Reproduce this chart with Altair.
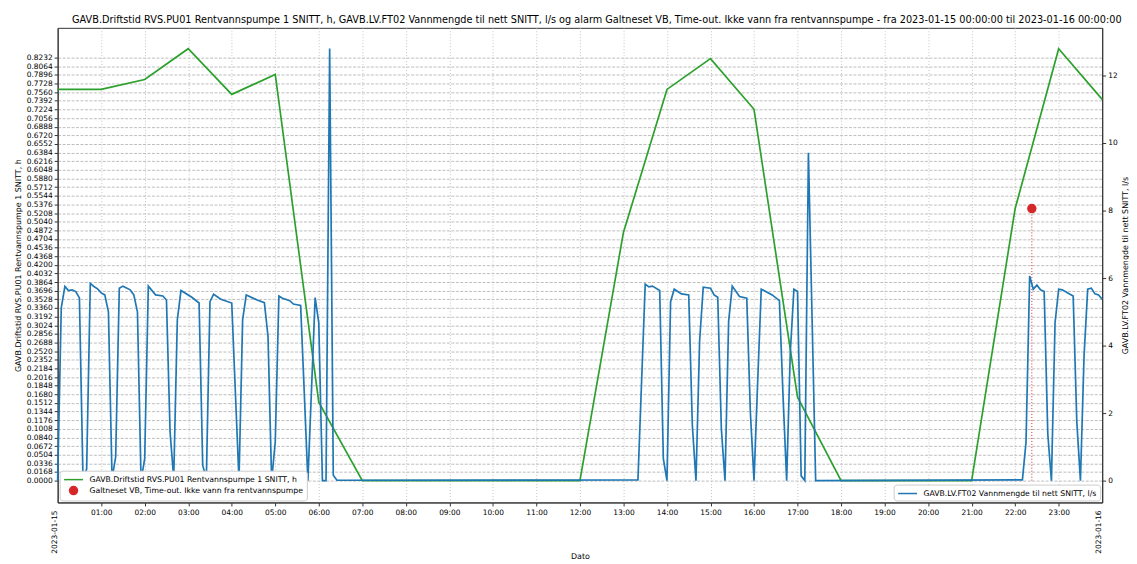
import altair as alt
import pandas as pd

FONT = "DejaVu Sans"
TITLE = ("GAVB.Driftstid RVS.PU01 Rentvannspumpe 1 SNITT, h, GAVB.LV.FT02 Vannmengde til nett SNITT, l/s "
         "og alarm Galtneset VB, Time-out. Ikke vann fra rentvannspumpe - fra 2023-01-15 00:00:00 til 2023-01-16 00:00:00")
GREEN_NAME = "GAVB.Driftstid RVS.PU01 Rentvannspumpe 1 SNITT, h"
ALARM_NAME = "Galtneset VB, Time-out. Ikke vann fra rentvannspumpe"
BLUE_NAME = "GAVB.LV.FT02 Vannmengde til nett SNITT, l/s"

# Driftstid (h), hourly, left axis
green_times = ["00:00", "01:00", "02:00", "03:00", "04:00", "05:00", "06:00", "07:00", "08:00",
               "09:00", "10:00", "11:00", "12:00", "13:00", "14:00", "15:00", "16:00", "17:00",
               "18:00", "19:00", "20:00", "21:00", "22:00", "23:00", "24:00"]
green_values = [0.7614, 0.7614, 0.7807, 0.8406, 0.7517, 0.7904, 0.1527, 0.0, 0.0,
                0.0, 0.0, 0.0, 0.0, 0.4831, 0.7614, 0.8213, 0.7227, 0.1623,
                0.0, 0.0, 0.0, 0.0, 0.5295, 0.8406, 0.7420]

# Vannmengde (l/s), right axis
blue_times = ["00:00", "00:05", "00:10", "00:15", "00:20", "00:25", "00:30", "00:35", "00:40",
              "00:45", "00:50", "00:55", "01:00", "01:05", "01:10", "01:15", "01:20", "01:25",
              "01:30", "01:40", "01:45", "01:50", "01:55", "02:00", "02:05", "02:15", "02:25",
              "02:30", "02:35", "02:40", "02:45", "02:50", "03:05", "03:15", "03:20", "03:25",
              "03:30", "03:35", "03:45", "04:00", "04:10", "04:15", "04:20", "04:35", "04:45",
              "04:50", "04:55", "05:00", "05:05", "05:10", "05:20", "05:25", "05:35", "05:45",
              "05:55", "06:00", "06:05", "06:10", "06:15", "06:20", "06:25", "13:20", "13:30",
              "13:35", "13:40", "13:50", "13:55", "14:00", "14:05", "14:10", "14:20", "14:30",
              "14:35", "14:40", "14:45", "14:50", "15:00", "15:05", "15:10", "15:15", "15:20",
              "15:25", "15:30", "15:40", "15:50", "15:55", "16:00", "16:05", "16:10", "16:25",
              "16:35", "16:40", "16:45", "16:50", "16:55", "17:00", "17:05", "17:10", "17:15",
              "17:25", "22:10", "22:15", "22:20", "22:25", "22:30", "22:35", "22:40", "22:45",
              "22:50", "22:55", "23:00", "23:05", "23:15", "23:20", "23:25", "23:30", "23:35",
              "23:40", "23:45", "23:50", "23:55", "24:00"]
blue_values = [0.0, 5.12, 5.75, 5.63, 5.65, 5.60, 5.41, 0.0, 0.35,
               5.84, 5.75, 5.68, 5.56, 5.50, 5.00, 0.06, 0.70, 5.70,
               5.76, 5.65, 5.50, 5.00, 0.0, 0.65, 5.76, 5.50, 5.47,
               5.35, 1.44, 0.06, 4.76, 5.63, 5.43, 5.26, 0.45, 0.06,
               5.30, 5.52, 5.37, 5.26, 0.0, 4.76, 5.50, 5.35, 5.27,
               4.27, 0.0, 1.15, 5.47, 5.40, 5.33, 5.23, 5.19, 0.0,
               5.42, 4.67, 0.0, 0.0, 12.80, 0.16, 0.01, 0.02, 5.82,
               5.74, 5.76, 5.63, 0.65, 0.0, 5.30, 5.67, 5.53, 5.50,
               1.63, 0.0, 4.13, 5.73, 5.70, 5.50, 5.43, 1.53, 0.0,
               4.71, 5.76, 5.45, 5.40, 2.02, 0.0, 2.90, 5.67, 5.50,
               5.33, 2.51, 0.0, 3.78, 5.67, 5.60, 0.14, 0.0, 9.71,
               0.0, 0.02, 1.14, 6.06, 5.67, 5.79, 5.65, 5.60, 1.38,
               0.0, 4.67, 5.67, 5.65, 5.53, 5.47, 1.74, 0.0, 3.69,
               5.67, 5.70, 5.53, 5.50, 5.37]

# Alarm
alarm_times = ["22:23"]
alarm_values = [0.5295]

# Axis texts
date_label_times = ["00:00", "24:00"]
date_labels = ["2023-01-15", "2023-01-16"]
hour_ticks = list(range(1, 24))
left_ticks = [round(i * 0.0168, 4) for i in range(50)]
right_ticks = [0, 2, 4, 6, 8, 10, 12]


def to_hours(s):
    h, m = s.split(":")
    return int(h) + int(m) / 60.0


df_green = pd.DataFrame({"hour": [to_hours(t) for t in green_times], "value": green_values})
df_blue = pd.DataFrame({"hour": [to_hours(t) for t in blue_times], "value": blue_values,
                        "series": BLUE_NAME})
df_alarm = pd.DataFrame({"hour": [to_hours(t) for t in alarm_times], "value": alarm_values,
                         "series": ALARM_NAME})
df_dates = pd.DataFrame({"hour": [to_hours(t) for t in date_label_times], "label": date_labels})

LINE_PATH = "M-1.9,0L1.9,0"
DOT_PATH = "M-0.8,0A0.8,0.8,0,1,1,0.8,0A0.8,0.8,0,1,1,-0.8,0Z"

x_enc = alt.X(
    "hour:Q",
    scale=alt.Scale(domain=[0, 24], nice=False, zero=False),
    axis=alt.Axis(values=hour_ticks,
                  labelExpr="(datum.value < 10 ? '0' : '') + datum.value + ':00'",
                  title="Dato", titlePadding=36, grid=True, gridDash=[1, 2],
                  gridColor="#c4c4c4", labelPadding=3, labelOverlap=False, labelFlush=False),
)

left_scale = alt.Scale(domain=[-0.0425, 0.8812], nice=False, zero=False)
left_axis = alt.Axis(values=left_ticks, format=".4f", title=GREEN_NAME, grid=True,
                     gridDash=[3, 1.5], gridColor="#bdbdbd", labelOverlap=False,
                     labelPadding=2, titlePadding=4)
y_left = alt.Y("value:Q", scale=left_scale, axis=left_axis)

legend_scale = alt.Scale(domain=[GREEN_NAME, ALARM_NAME], range=["#2ca02c", "#d62728"])
shape_scale = alt.Scale(domain=[GREEN_NAME, ALARM_NAME], range=[LINE_PATH, DOT_PATH])

leg1 = alt.Legend(title=None, orient="bottom-left", offset=2, fillColor="white",
                  strokeColor="#cccccc", cornerRadius=3, padding=3, rowPadding=0,
                  labelFont=FONT, labelFontSize=7.8, labelColor="black", labelLimit=500,
                  symbolStrokeWidth=1.5, symbolSize=100, symbolOffset=5, labelOffset=10)
leg2 = alt.Legend(title=None, orient="bottom-right", offset=2, fillColor="white",
                  strokeColor="#cccccc", cornerRadius=3, padding=3, rowPadding=0,
                  labelFont=FONT, labelFontSize=7.8, labelColor="black", labelLimit=500,
                  symbolType=LINE_PATH, symbolStrokeWidth=1.5, symbolSize=100,
                  symbolOffset=5, labelOffset=10)

green = alt.Chart(df_green).mark_line(color="#2ca02c", strokeWidth=1.7).encode(x=x_enc, y=y_left)

alarm_rule = alt.Chart(df_alarm).mark_rule(color="#d62728", strokeDash=[1, 2], strokeWidth=1).encode(
    x=x_enc, y=y_left, y2=alt.Y2(datum=0))

alarm_pt = alt.Chart(df_alarm).mark_point(filled=True, size=100, opacity=1, strokeWidth=1.5).encode(
    x=x_enc, y=y_left,
    fill=alt.Fill("series:N", scale=legend_scale, legend=leg1),
    stroke=alt.Stroke("series:N", scale=legend_scale, legend=leg1),
    shape=alt.Shape("series:N", scale=shape_scale, legend=leg1),
)

date_text = alt.Chart(df_dates).mark_text(angle=270, align="right", baseline="middle", dy=-3,
                                          font=FONT, fontSize=7.5, color="black").encode(
    x=x_enc, y=alt.value(486), text="label:N")

blue = alt.Chart(df_blue).mark_line(strokeWidth=1.7).encode(
    x=x_enc,
    y=alt.Y("value:Q", scale=alt.Scale(domain=[-0.647, 13.41], nice=False, zero=False),
            axis=alt.Axis(orient="right", values=right_ticks, format="d", title=BLUE_NAME,
                          titleAngle=270, titleBaseline="top", grid=False, labelPadding=2,
                          titlePadding=4)),
    color=alt.Color("series:N", scale=alt.Scale(domain=[BLUE_NAME], range=["#1f77b4"]), legend=leg2),
)

left = alt.layer(green, alarm_rule, alarm_pt, date_text)
chart = alt.layer(left, blue).resolve_scale(y="independent").properties(
    width=1052, height=478,
    autosize=alt.AutoSizeParams(type="none"),
    padding={"left": 50, "top": 18, "right": 27, "bottom": 60},
    title=alt.Title(TITLE, font=FONT, fontSize=9.8, fontWeight="normal", color="black",
                    anchor="middle", offset=3, dx=17),
).configure_view(stroke="#333333", strokeWidth=1).configure_axis(
    labelFont=FONT, labelFontSize=7.5, labelColor="black",
    titleFont=FONT, titleFontSize=8, titleFontWeight="normal", titleColor="black",
    tickColor="#333333", domainColor="#333333", tickSize=3.5,
)

chart.save("out.html", embed_options={"renderer": "svg", "actions": False})
